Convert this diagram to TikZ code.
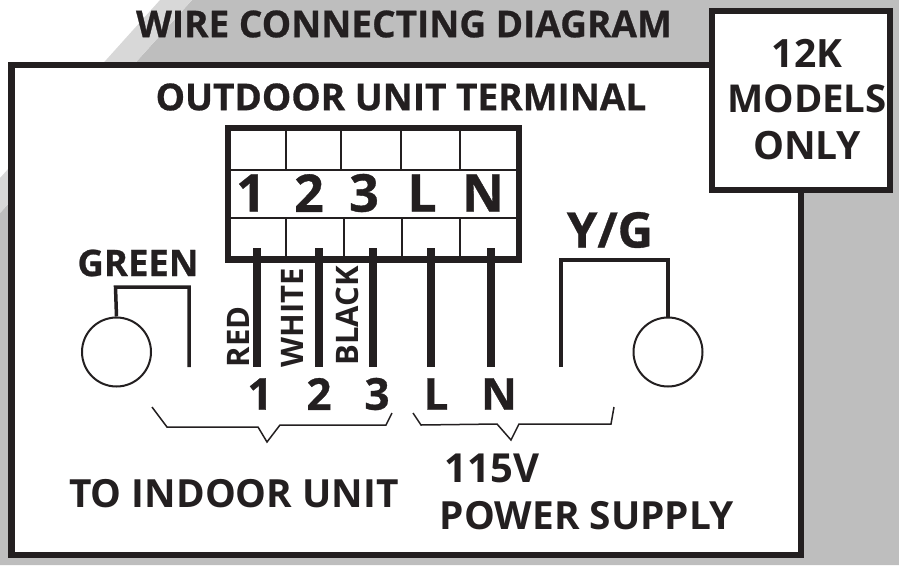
\documentclass[tikz,border=0pt]{standalone}
\usepackage{fontspec}
\setmainfont{Open Sans}
\newfontfamily\heavyfam{Open Sans}[BoldFeatures={FakeBold=0.7}]
\definecolor{ink}{HTML}{231F20}
\definecolor{bgdark}{HTML}{BEBEBE}
\definecolor{bglight}{HTML}{D8D8D8}
\newcommand{\fsz}[1]{\fontsize{#1}{#1}\selectfont\bfseries}
\newcommand{\hsz}[1]{\heavyfam\fontsize{#1}{#1}\selectfont\bfseries}
\tikzset{
  frameline/.style={draw=ink,line width=6.5pt,miter limit=10},
  cell/.style={draw=ink,line width=1.8pt},
  wire/.style={draw=ink,line width=8pt},
  thinwire/.style={draw=ink,line width=3.5pt},
  ground/.style={circle,draw=ink,line width=2pt,minimum size=69pt,inner sep=0pt,fill=white},
  brace/.style={draw=ink,line width=1.5pt},
  lbl/.style={text=ink,inner sep=0pt,anchor=center,align=center},
}
\begin{document}
\begin{tikzpicture}[x=1pt,y=-1pt]
\useasboundingbox (0,0) rectangle (899,565);
% background
\fill[bgdark] (192,0) -- (899,0) -- (899,565) -- (0,565) -- (0,213) -- cycle;
\fill[bglight] (160,0) -- (192,0) -- (0,213) -- (0,178) -- cycle;
% outer frame
\path[frameline,fill=white] (11.5,65) rectangle (801,555);
\node[lbl] (title) at (404,24) {\hsz{37}WIRE CONNECTING DIAGRAM};
% model box
\path[frameline,fill=white] (712,11) rectangle (890,190);
\node[lbl] (m1) at (807,53) {\fsz{39}12K};
\node[lbl] (m2) at (807,99) {\fsz{38.4}MODELS};
\node[lbl] (m3) at (807,146) {\fsz{39}ONLY};
\node[lbl] (term) at (401,97) {\hsz{37}OUTDOOR UNIT TERMINAL};
% terminal block
\draw[cell] (231,170) -- (516,170);
\draw[cell] (231,218) -- (516,218);
\foreach \x in {286,341,401,460} \draw[cell] (\x,131) -- (\x,170);
\foreach \x in {286,344,402,460} \draw[cell] (\x,218) -- (\x,257);
\path[frameline] (228,128) rectangle (519,259.5);
\node[lbl] (t1) at (251,193) {\hsz{52}1};
\node[lbl] (t2) at (309,193) {\hsz{52}2};
\node[lbl] (t3) at (364,193) {\hsz{52}3};
\node[lbl] (tL) at (422,193) {\hsz{52}L};
\node[lbl] (tN) at (483,193) {\hsz{52}N};
% wires
\foreach \n/\x in {a/257,b/319,c/373,d/431,e/491}{
  \coordinate (\n top) at (\x,248);
  \coordinate (\n bot) at (\x,367);
  \draw[wire] (\n top) -- (\n bot);
}
% rotated labels
\node[lbl,rotate=90] (red) at (238,337) {\fsz{31}RED};
\node[lbl,rotate=90] (white) at (292,318) {\fsz{31}WHITE};
\node[lbl,rotate=90] (black) at (347,316) {\fsz{31}BLACK};
% bottom terminals
\node[lbl] (b1) at (260,394) {\hsz{44}1};
\node[lbl] (b2) at (319,394) {\hsz{44}2};
\node[lbl] (b3) at (377,394) {\hsz{44}3};
\node[lbl] (bL) at (436,394) {\hsz{44}L};
\node[lbl] (bN) at (499,394) {\hsz{44}N};
% grounds
\node[ground] (gl) at (116.5,352) {};
\node[ground] (gr) at (668,352) {};
\coordinate (gle) at (189,367);
\coordinate (gre) at (561,367);
\draw[thinwire] (gl.north) -- (115.5,287) -- (189,287) -- (gle);
\draw[thinwire] (gr.north) -- (668,260) -- (561,260) -- (gre);
\node[lbl] (green) at (138,263) {\hsz{36.5}GREEN};
\node[lbl] (yg) at (610,230) {\hsz{49}Y/G};
% braces
\draw[brace] (152,407) -- (167,427) -- (258,427) -- (267,442) -- (280,425) -- (386,425) -- (392,413);
\draw[brace] (413,413) -- (421,425) -- (497,424) -- (511,440) -- (519,424) -- (611,424) -- (614,407);
\node[lbl] (indoor) at (234,494) {\fsz{38.8}TO INDOOR UNIT};
\node[lbl] (v115) at (492,468) {\fsz{40}115V};
\node[lbl] (psu) at (587,516) {\fsz{38.8}POWER SUPPLY};
\end{tikzpicture}
\end{document}
